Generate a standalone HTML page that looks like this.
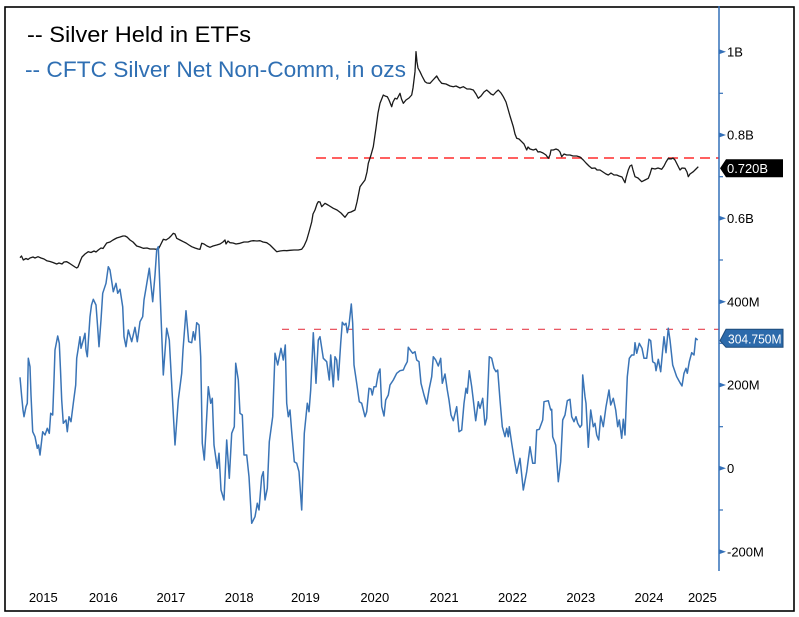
<!DOCTYPE html>
<html>
<head>
<meta charset="utf-8">
<style>
  html, body { margin:0; padding:0; background:#ffffff; }
  svg { display:block; }
  text { font-family: "Liberation Sans", "DejaVu Sans", sans-serif; }
</style>
</head>
<body>
<svg width="799" height="617" viewBox="0 0 799 617" xmlns="http://www.w3.org/2000/svg">
  <rect x="0" y="0" width="799" height="617" fill="#ffffff"/>
  <!-- frame -->
  <rect x="5" y="7" width="789" height="604" fill="none" stroke="#000000" stroke-width="1.6"/>

  <!-- legend -->
  <text x="27" y="42" font-size="22" fill="#000000" textLength="224" lengthAdjust="spacingAndGlyphs">-- Silver Held in ETFs</text>
  <text x="25" y="77" font-size="22" fill="#2f6fb3" textLength="381" lengthAdjust="spacingAndGlyphs">-- CFTC Silver Net Non-Comm, in ozs</text>

  <!-- red reference lines -->
  <line x1="316" y1="158" x2="719" y2="158" stroke="#ff2b2b" stroke-width="1.5" stroke-dasharray="10,6"/>
  <line x1="282" y1="329.3" x2="719" y2="329.3" stroke="#e8404f" stroke-width="1.2" stroke-dasharray="7,9"/>

  <!-- ETF series (black) -->
  <polyline fill="none" stroke="#1a1a1a" stroke-width="1.3" stroke-linejoin="round" points="20,257.7 21.5,256 23.3,260 26,258.5 28,259.5 30,258 33,257 35,258 38,256.7 41,258 44,259 46.7,260.7 50,261.5 53,262.5 56.7,264 59,263 62,264 64,262 66.7,261.7 69,263 72,265 75,267 76.7,268 78,267 80.7,260 82,257 85,254 88.3,251.7 91,252.5 94,251 96,252 98.3,250 101,248 103,248.5 106.7,243 110,242 113,240 116.7,238 120,237 123,236 125,236 127,237 130,240 133,242 136.7,246 140,247 143.3,248.3 147,248 150,249 154,249 156.7,249.3 158.3,249 160,246 163.3,239.3 166,240 169,238 171,236 173.3,233.3 175,234 176.7,238.3 180,240 183.3,241.7 186,243 189,245 191.7,246.7 195,248 198,249 200,249.3 201.7,243.3 204,244 207,246 210,247.3 213,246 216.7,245 220,244 223,242 225,240 226,244 228,241 230,242.7 233,243 236,244 240,243.3 244,242 248,242 251,241 253.3,240.7 257,241 260,240.7 263,242 266.7,242.7 270,245 273,248 276.7,251.7 280,251 284,250.5 286.7,250.7 290,250.3 294,250 298.3,250 301.7,249.3 304,246 306.7,240 309,232 311.7,222 313,214 315,210 317,204 318.3,201.7 320,202 321.7,206.7 325,203.3 328,205 333.3,208.3 337,210 341,213 345,217.3 348.3,212.7 351,212 355,210 357,202 360,186.7 362,184 365,180 367,172 368.3,163.3 371,155 373.3,146.7 376,128 378,113 380,103.3 383.3,95 385,96 387.3,96.7 389,100 391.7,106.7 393,102 395,98.3 397,99 400,93.3 401.5,99 403.3,103.3 406,100 409,98 411.7,95 413,88 415,71.7 416,51.7 417,62 418,68 420,71.7 422,76 425,81.7 427,83 430,83.3 433,80 436.7,76 439,80 441.7,83.3 446,84 450,86 453.3,86.7 456,86 460,88 463.3,86.7 467,89 470,89 473.3,90 476,94 478.3,98.3 481,96 484,92 486.7,90 489,92 491,94 493.3,95 496,92 498.3,90 501,93 503.3,96.7 506,102 508.3,110 510,116 513.3,126.7 515,134 516.7,138.3 519,139 521.7,141.7 524,144 526.7,150 528,147 530,149 533.3,150 536,149 538,152 540,151.7 543,153 546,155 548.3,158.3 550,155 551,150 553.3,150 556,149 558.3,150 560,152 561.7,156.7 564,154 566.7,155 570,155 573,156 576.7,156 580,157 583.3,160 586,163 589,166 591.7,168.3 595,168 597,170 600,170 603,172 606,174 608.3,175 611,173 614,175 616.7,175 619,176 622,177 625,182.7 626,178 628.3,170 630,166 631.7,165 633,170 635,176.7 638,178 641.7,181.7 645,180 648.3,178.3 650,174 651.7,168.3 655,169 658,168 661.7,169.3 664,166 666,162 668.3,158.3 671,159 673,158 675,160 677,164 680,170 682,168 685,168.3 687,172 688.3,176.7 690,174 693.3,171.7 696,169 698.3,166.7"/>

  <!-- CFTC series (blue) -->
  <polyline fill="none" stroke="#3a74b6" stroke-width="1.5" stroke-linejoin="round" points="20,377.3 21.7,396.7 23,410 24,416.7 26,406.7 27.3,403.3 28.3,358.3 30,366.7 31,395 32.7,431.7 35,436.7 37.3,448.3 38.5,445 40,455 42.7,431.7 45,435 47.3,428.3 49.3,433.3 50.7,413.3 52.7,415 54,380 55,350 57.7,336 59.3,343.3 60.5,370 61.7,400 63.3,423.3 66,420 67.3,431.7 69,416.7 71,421.7 73.3,403.3 75.7,385 76.7,358.3 78,350 80,336.7 81,348.3 83.3,340 85,333.3 86,350 87.3,356.7 90,316.7 91.5,305 93.3,299.3 96,305 97.5,325 99,346.7 101,320 102.7,293.3 106,283.3 108.3,266.7 110,270 113.3,291.7 116,283.3 117.7,293.3 120,289.3 122.7,306.7 124,336.7 126,346.7 128.3,330 131.7,341.7 135,327.3 137.3,341.7 140,321.7 142.7,316.7 144,300 146,288.3 149.3,268.3 152.7,301.7 155,275 156.7,250 158.3,246.7 160,290 163.3,375 166.7,328.3 169.3,340 172,390 175,445 178.3,400 181.7,373.3 183,350 186,310.7 188.7,341.7 191.7,342.7 193.3,331.7 195,340 196.7,322.7 199,325 200.7,356.7 202.3,443.3 204.3,460 206,430 208.3,386.7 210.7,403.3 212.3,398.3 214,445 217.3,468.3 219,453.3 221,490 224,500 226.7,440 229.3,478.3 231.7,433.3 234.3,426.7 235.7,363.3 238.3,380 240,413.3 242.3,415 244,455 246.7,455 249,476.7 251.7,523.3 255,516.7 257.3,503.3 259,510 261.7,476.7 263.3,471.7 265,500 267.3,488.3 269.3,441.7 272.7,416.7 275,353.3 277.7,365 281,348.3 283.3,360 285.3,345 286.7,403.3 288.3,416.7 290,410 291.7,431.7 294.3,461.7 296.7,463.3 299,471.7 301.7,510 304.3,433.3 307.3,403.3 309,411.7 310.7,390 313.3,332.7 316,383.3 318.3,340 320,336.7 323.3,358.3 326.7,361.7 329.3,380 330.7,355 333.3,386.7 335,356.7 336.7,360 338.3,380 340.7,343.3 342.3,322.3 344.3,325 346,323.3 347.3,332.7 349,325 351.3,304 352.7,323.3 354,365 356.7,383.3 359.3,401.7 361.7,403.3 365,416.7 366.7,411.7 369,388.3 371,389 372.3,395 374,386.7 376,386.7 378.3,373.3 380,369 381.7,406.7 384,416 385.7,400 388.3,395 390,385 393.3,380 396.7,373.3 400,370.7 403.3,370 405,366 407.3,361.7 408.3,347.3 410.7,350.7 412.7,353.3 415,351.7 416.7,360 419,361.7 421,383.3 424,395 426.7,404 429.3,388.3 431.7,376.7 433.3,356.7 435.7,360 438.3,366 440.7,358.3 442.3,383.3 445,374 447.3,390 449,400 451,415 453.3,420.7 456.7,406.7 459,431.7 461.7,430 464,403.3 466,388.3 467.3,393.3 469.3,370.7 471.7,386.7 473.3,400 475.7,420.7 478.3,401.7 480,408.3 482.7,398.3 485,425 486.7,418.3 489.3,356.7 491.7,358.3 494,368.3 496,371.7 497.7,370 500,400 502.3,426.7 505,436.7 506.7,428.3 508.3,436.7 509.3,426.7 511.7,443.3 514,458 516.7,473.3 520,458.3 523.3,490 526.7,471.7 530,446.7 532.7,463.3 535,463.3 536.7,430 539.3,429.3 542.7,420 544,401.7 548.3,400.7 550.7,410 551.7,409.3 552.7,436.7 555.7,445 558.3,481.7 560.7,461.7 562.7,420 565,415 567.3,400.7 570,399.3 571.7,416.7 574,421.7 576,416.7 577.7,423.3 580,427.3 581.7,425 582.7,375 585,396.7 586,403.3 588.3,447.3 590.7,410 593.3,426.7 595,423.3 596.7,435 598.7,440 600.7,416 603.3,426.7 606,406.7 609,390 610.7,405 613.3,398.3 615.7,410 617.7,426.7 619.3,420 621.7,438.3 623.3,419.3 625,435 627.3,376.7 629.3,358.3 631.7,355 634,355 635,342.7 636.7,353.3 639.3,343.3 642,348.3 644,358.3 646.7,358.3 649,339.3 650.7,340.7 652.7,361.7 655,363.3 656,370.7 658.3,359.3 660.7,371.7 662.7,350 664,336.7 666,352.7 668.3,328.3 670,340 672.7,365 676.7,376.7 680,382.7 682,386 684,373.3 686,368.3 687.3,373.3 689.3,361.7 691.7,352.7 694,355 695.7,338.3 697.7,340"/>

  <!-- right axis -->
  <line x1="719" y1="6" x2="719" y2="571" stroke="#3470b8" stroke-width="1.5"/>
  <g fill="#3470b8">
    <polygon points="719,49.2 726,51.7 719,54.2"/>
    <polygon points="719,132.5 726,135 719,137.5"/>
    <polygon points="719,215.8 726,218.3 719,220.8"/>
    <polygon points="719,299.2 726,301.7 719,304.2"/>
    <polygon points="719,382.5 726,385 719,387.5"/>
    <polygon points="719,465.8 726,468.3 719,470.8"/>
    <polygon points="719,549.2 726,551.7 719,554.2"/>
  </g>
  <g stroke="#3470b8" stroke-width="1.2">
    <line x1="719" y1="93.3" x2="723" y2="93.3"/>
    <line x1="719" y1="176.7" x2="723" y2="176.7"/>
    <line x1="719" y1="260" x2="723" y2="260"/>
    <line x1="719" y1="343.3" x2="723" y2="343.3"/>
    <line x1="719" y1="426.7" x2="723" y2="426.7"/>
    <line x1="719" y1="510" x2="723" y2="510"/>
  </g>
  <g font-size="13" fill="#000000">
    <text x="727" y="56.3">1B</text>
    <text x="727" y="139.6">0.8B</text>
    <text x="727" y="222.9">0.6B</text>
    <text x="727" y="306.3">400M</text>
    <text x="727" y="389.6">200M</text>
    <text x="727" y="472.9">0</text>
    <text x="727" y="556.3">-200M</text>
  </g>

  <!-- last value labels -->
  <polygon points="720,168.3 726,159.3 783,159.3 783,177.3 726,177.3" fill="#000000"/>
  <text x="727" y="173" font-size="13" fill="#ffffff" textLength="41" lengthAdjust="spacingAndGlyphs">0.720B</text>
  <polygon points="720,340.7 726,329.3 783,329.3 783,347.3 726,347.3" fill="#2c6aab" stroke="#1d4a7a" stroke-width="1"/>
  <text x="728" y="343.5" font-size="13" fill="#ffffff" textLength="53.5" lengthAdjust="spacingAndGlyphs">304.750M</text>

  <!-- x axis year labels -->
  <g font-size="13" fill="#000000" text-anchor="middle">
    <text x="43.3" y="602">2015</text>
    <text x="103.3" y="602">2016</text>
    <text x="170.9" y="602">2017</text>
    <text x="239.2" y="602">2018</text>
    <text x="305.4" y="602">2019</text>
    <text x="374.8" y="602">2020</text>
    <text x="444.1" y="602">2021</text>
    <text x="512.5" y="602">2022</text>
    <text x="580.8" y="602">2023</text>
    <text x="649" y="602">2024</text>
    <text x="702.4" y="602">2025</text>
  </g>
</svg>
</body>
</html>
